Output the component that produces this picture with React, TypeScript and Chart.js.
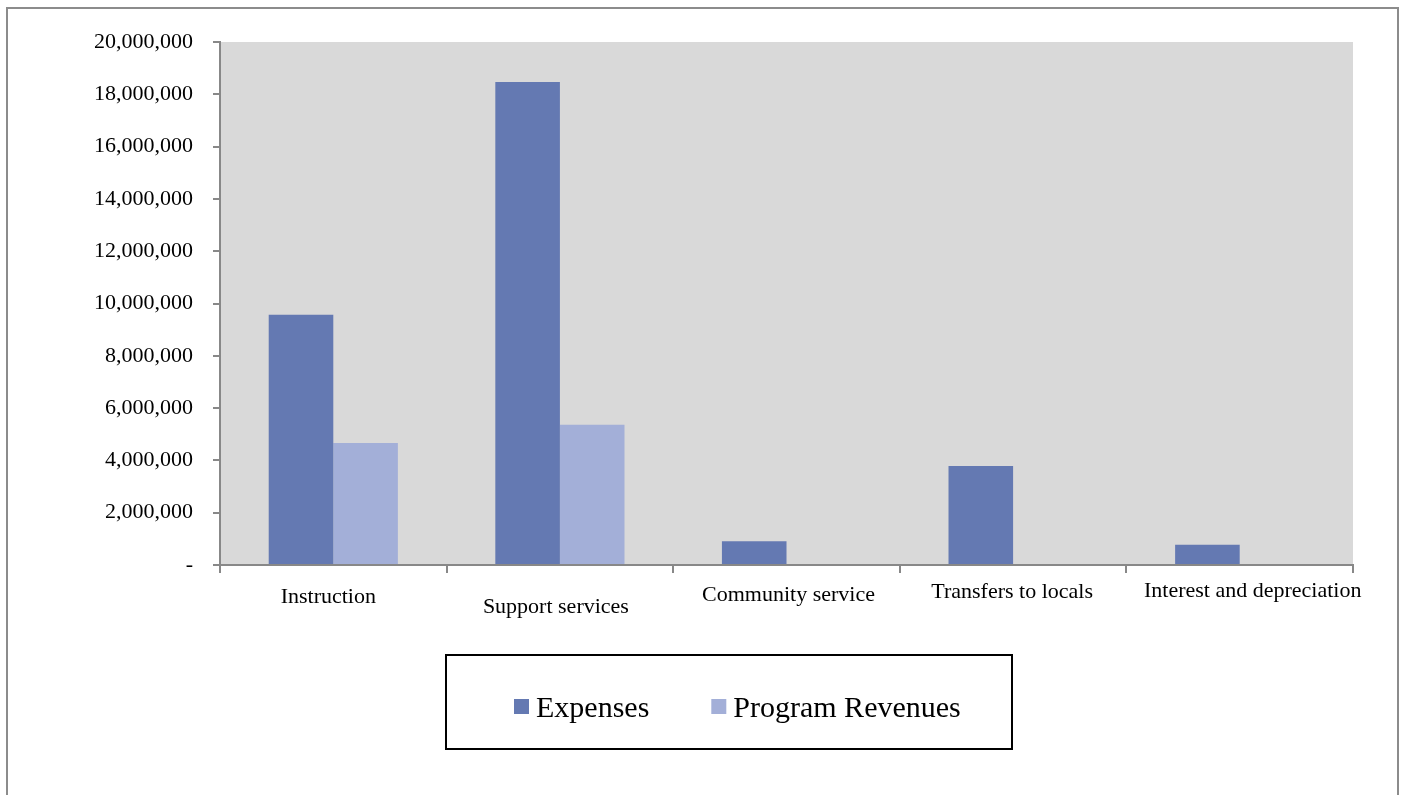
import React, { useEffect, useRef } from 'react';
import { Chart, registerables } from 'chart.js';

Chart.register(...registerables);

const categories = [
  'Instruction',
  'Support services',
  'Community service',
  'Transfers to locals',
  'Interest and depreciation',
];
const expenses = [9570000, 18470000, 910000, 3790000, 770000];
const programRevenues = [4670000, 5360000, 0, 0, 0];
const seriesLabels = ['Expenses', 'Program Revenues'];
const seriesColors = ['#6479b2', '#a3afd8'];
const yMax = 20000000;
const yStep = 2000000;

const FONT = "'Liberation Serif', 'Times New Roman', serif";

// label nudges (px) mimicking the original's slightly staggered category labels
const labelDx = [-5, -4, 2, -1, 13];
const labelDy = [38, 48, 36, 33, 32];

const plotBg = {
  id: 'plotBg',
  beforeDraw(chart: any) {
    const { ctx, chartArea } = chart;
    ctx.save();
    ctx.fillStyle = '#d9d9d9';
    ctx.fillRect(chartArea.left, chartArea.top, chartArea.right - chartArea.left, chartArea.bottom - chartArea.top);
    ctx.restore();
  },
};

const xLabels = {
  id: 'xLabels',
  afterDraw(chart: any) {
    const { ctx, chartArea } = chart;
    const xs = chart.scales.x;
    ctx.save();
    ctx.font = `22px ${FONT}`;
    ctx.fillStyle = '#000';
    ctx.textAlign = 'center';
    ctx.textBaseline = 'alphabetic';
    (chart.data.labels as string[]).forEach((lab, i) => {
      const x = xs.getPixelForValue(i) + labelDx[i];
      ctx.fillText(lab, x, chartArea.bottom + labelDy[i]);
    });
    ctx.restore();
  },
};

const boxLegend = {
  id: 'boxLegend',
  afterDraw(chart: any) {
    const { ctx } = chart;
    const bx = 446, by = 655, bw = 566, bh = 94;
    ctx.save();
    ctx.strokeStyle = '#000';
    ctx.lineWidth = 2;
    ctx.strokeRect(bx, by, bw, bh);
    ctx.font = `30px ${FONT}`;
    ctx.textBaseline = 'alphabetic';
    ctx.textAlign = 'left';
    let x = bx + 68;
    const cy = by + 52;
    chart.data.datasets.forEach((ds: any, i: number) => {
      ctx.fillStyle = ds.backgroundColor;
      ctx.fillRect(x, cy - 8, 15, 15);
      x += 22;
      ctx.fillStyle = '#000';
      ctx.fillText(ds.label, x, cy + 10);
      x += ctx.measureText(ds.label).width + 62;
    });
    ctx.restore();
  },
};

export default function App() {
  const ref = useRef<HTMLCanvasElement | null>(null);

  useEffect(() => {
    if (!ref.current) return;
    const chart = new Chart(ref.current, {
      type: 'bar',
      data: {
        labels: categories,
        datasets: [
          { label: seriesLabels[0], data: expenses, backgroundColor: seriesColors[0], borderWidth: 0 },
          { label: seriesLabels[1], data: programRevenues, backgroundColor: seriesColors[1], borderWidth: 0 },
        ],
      },
      options: {
        responsive: false,
        devicePixelRatio: 1,
        animation: false,
        layout: { padding: { left: 0, right: 50, top: 42, bottom: 190 } },
        datasets: { bar: { categoryPercentage: 0.57, barPercentage: 1.0 } },
        plugins: { legend: { display: false }, tooltip: { enabled: false } },
        scales: {
          x: {
            afterFit: (s: any) => { s.height = 40; },
            grid: { display: true, drawOnChartArea: false, drawTicks: true, tickLength: 8, color: '#888', lineWidth: 2, offset: true },
            border: { display: true, color: '#888', width: 2 },
            ticks: { display: false },
          },
          y: {
            min: 0,
            max: yMax,
            afterFit: (s: any) => { s.width = 220; },
            grid: { display: true, drawOnChartArea: false, drawTicks: true, tickLength: 7, color: '#888', lineWidth: 2 },
            border: { display: true, color: '#888', width: 2 },
            ticks: {
              stepSize: yStep,
              padding: 20,
              color: '#000',
              font: { family: FONT, size: 22 },
              callback: (v: any) => (Number(v) === 0 ? '-' : Number(v).toLocaleString('en-US')),
            },
          },
        },
      },
      plugins: [plotBg, xLabels, boxLegend],
    });
    return () => chart.destroy();
  }, []);

  return (
    <div style={{ position: 'fixed', left: 0, top: 0, width: 1403, height: 795, background: '#fff', overflow: 'hidden' }}>
      <canvas ref={ref} width={1403} height={795} style={{ display: 'block', width: 1403, height: 795 }} />
      <div
        style={{
          position: 'absolute',
          left: 6,
          top: 7,
          width: 1393,
          height: 800,
          border: '2px solid #8c8c8c',
          boxSizing: 'border-box',
          pointerEvents: 'none',
        }}
      />
    </div>
  );
}
